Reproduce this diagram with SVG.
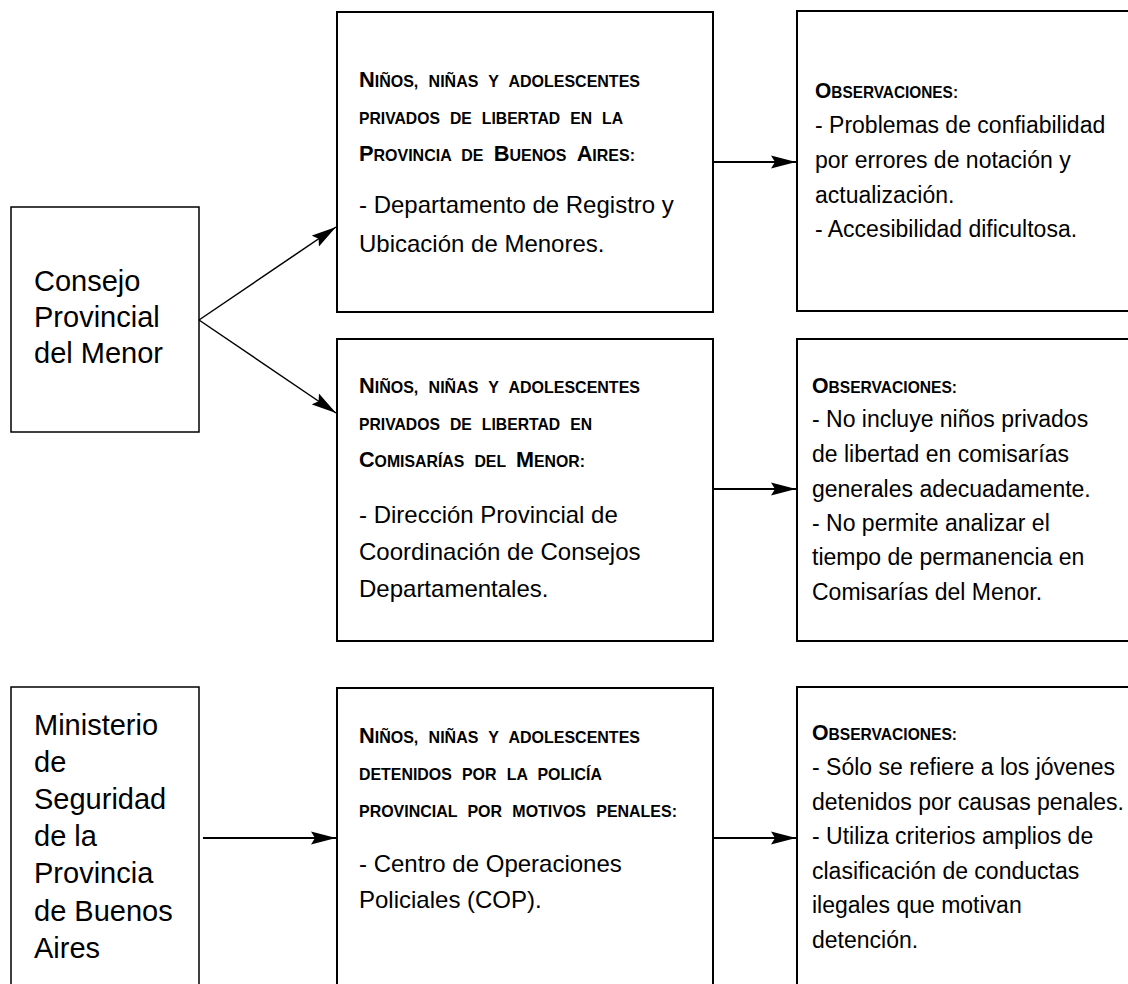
<svg xmlns="http://www.w3.org/2000/svg" width="1128" height="984" viewBox="0 0 1128 984">
<style>
.box{fill:#fff;stroke:#000;stroke-width:2}
.boxl{fill:#fff;stroke:#000;stroke-width:1.5}
.big{font-family:"Liberation Sans",Arial,sans-serif;font-size:29px;fill:#000}
.body{font-family:"Liberation Sans",Arial,sans-serif;font-size:23px;fill:#000}
.bodyb{font-family:"Liberation Sans",Arial,sans-serif;font-size:24px;fill:#000}
.hdr{font-family:"Liberation Sans",Arial,sans-serif;font-size:16.5px;font-weight:bold;word-spacing:6px;fill:#000}
.L{font-size:22.5px}
.conn{stroke:#000;stroke-width:2;fill:none}
.connd{stroke:#000;stroke-width:1.5;fill:none}
</style>
<defs>
<marker id="arr" markerUnits="userSpaceOnUse" markerWidth="26" markerHeight="14" refX="25" refY="7" orient="auto">
<path d="M0,0.5 L25,7 L0,13.5 L4,7 Z" fill="#000"/>
</marker>
</defs>
<rect width="1128" height="984" fill="#fff"/>

<g id="consejo">
<rect class="boxl" x="11" y="207" width="188" height="225"/>
<text class="big" x="34" y="291">Consejo</text>
<text class="big" x="34" y="327">Provincial</text>
<text class="big" x="34" y="363">del Menor</text>
</g>

<g id="ministerio">
<rect class="boxl" x="11" y="687" width="188" height="400"/>
<text class="big" x="34" y="735">Ministerio</text>
<text class="big" x="34" y="772">de</text>
<text class="big" x="34" y="809">Seguridad</text>
<text class="big" x="34" y="846">de la</text>
<text class="big" x="34" y="883">Provincia</text>
<text class="big" x="34" y="921">de Buenos</text>
<text class="big" x="34" y="958">Aires</text>
</g>

<g id="registro">
<rect class="box" x="337" y="12" width="376" height="300"/>
<text class="hdr" x="359" y="87" textLength="281" lengthAdjust="spacingAndGlyphs"><tspan class="L">N</tspan>IÑOS, NIÑAS Y ADOLESCENTES</text>
<text class="hdr" x="359" y="124" textLength="264" lengthAdjust="spacingAndGlyphs">PRIVADOS DE LIBERTAD EN LA</text>
<text class="hdr" x="359" y="161" textLength="276" lengthAdjust="spacingAndGlyphs"><tspan class="L">P</tspan>ROVINCIA DE <tspan class="L">B</tspan>UENOS <tspan class="L">A</tspan>IRES:</text>
<text class="bodyb" x="359" y="213">- Departamento de Registro y</text>
<text class="bodyb" x="359" y="252">Ubicación de Menores.</text>
</g>

<g id="comisarias">
<rect class="box" x="337" y="339" width="376" height="302"/>
<text class="hdr" x="359" y="393" textLength="281" lengthAdjust="spacingAndGlyphs"><tspan class="L">N</tspan>IÑOS, NIÑAS Y ADOLESCENTES</text>
<text class="hdr" x="359" y="430" textLength="233" lengthAdjust="spacingAndGlyphs">PRIVADOS DE LIBERTAD EN</text>
<text class="hdr" x="359" y="467" textLength="226" lengthAdjust="spacingAndGlyphs"><tspan class="L">C</tspan>OMISARÍAS DEL <tspan class="L">M</tspan>ENOR:</text>
<text class="bodyb" x="359" y="523">- Dirección Provincial de</text>
<text class="bodyb" x="359" y="560">Coordinación de Consejos</text>
<text class="bodyb" x="359" y="597">Departamentales.</text>
</g>

<g id="cop">
<rect class="box" x="337" y="688" width="376" height="400"/>
<text class="hdr" x="359" y="743" textLength="281" lengthAdjust="spacingAndGlyphs"><tspan class="L">N</tspan>IÑOS, NIÑAS Y ADOLESCENTES</text>
<text class="hdr" x="359" y="780" textLength="243" lengthAdjust="spacingAndGlyphs">DETENIDOS POR LA POLICÍA</text>
<text class="hdr" x="359" y="817" textLength="318" lengthAdjust="spacingAndGlyphs">PROVINCIAL POR MOTIVOS PENALES:</text>
<text class="bodyb" x="359" y="872">- Centro de Operaciones</text>
<text class="bodyb" x="359" y="908">Policiales (COP).</text>
</g>

<g id="obs1">
<rect class="box" x="797" y="11" width="400" height="300"/>
<text class="hdr" x="815" y="98" textLength="143" lengthAdjust="spacingAndGlyphs"><tspan class="L">O</tspan>BSERVACIONES:</text>
<text class="body" x="815" y="133">- Problemas de confiabilidad</text>
<text class="body" x="815" y="168">por errores de notación y</text>
<text class="body" x="815" y="203">actualización.</text>
<text class="body" x="815" y="237">- Accesibilidad dificultosa.</text>
</g>

<g id="obs2">
<rect class="box" x="797" y="339" width="400" height="302"/>
<text class="hdr" x="812" y="393" textLength="145" lengthAdjust="spacingAndGlyphs"><tspan class="L">O</tspan>BSERVACIONES:</text>
<text class="body" x="812" y="427">- No incluye niños privados</text>
<text class="body" x="812" y="462">de libertad en comisarías</text>
<text class="body" x="812" y="497">generales adecuadamente.</text>
<text class="body" x="812" y="531">- No permite analizar el</text>
<text class="body" x="812" y="565">tiempo de permanencia en</text>
<text class="body" x="812" y="600">Comisarías del Menor.</text>
</g>

<g id="obs3">
<rect class="box" x="797" y="687" width="400" height="400"/>
<text class="hdr" x="812" y="740" textLength="145" lengthAdjust="spacingAndGlyphs"><tspan class="L">O</tspan>BSERVACIONES:</text>
<text class="body" x="812" y="775">- Sólo se refiere a los jóvenes</text>
<text class="body" x="812" y="810">detenidos por causas penales.</text>
<text class="body" x="812" y="844">- Utiliza criterios amplios de</text>
<text class="body" x="812" y="879">clasificación de conductas</text>
<text class="body" x="812" y="913">ilegales que motivan</text>
<text class="body" x="812" y="948">detención.</text>
</g>

<g id="connectors">
<line class="connd" x1="199" y1="320" x2="336" y2="227" marker-end="url(#arr)"/>
<line class="connd" x1="199" y1="320" x2="336" y2="413" marker-end="url(#arr)"/>
<line class="conn" x1="713" y1="162" x2="796" y2="162" marker-end="url(#arr)"/>
<line class="conn" x1="713" y1="489" x2="796" y2="489" marker-end="url(#arr)"/>
<line class="conn" x1="203" y1="838" x2="336" y2="838" marker-end="url(#arr)"/>
<line class="conn" x1="713" y1="838" x2="796" y2="838" marker-end="url(#arr)"/>
</g>
</svg>
